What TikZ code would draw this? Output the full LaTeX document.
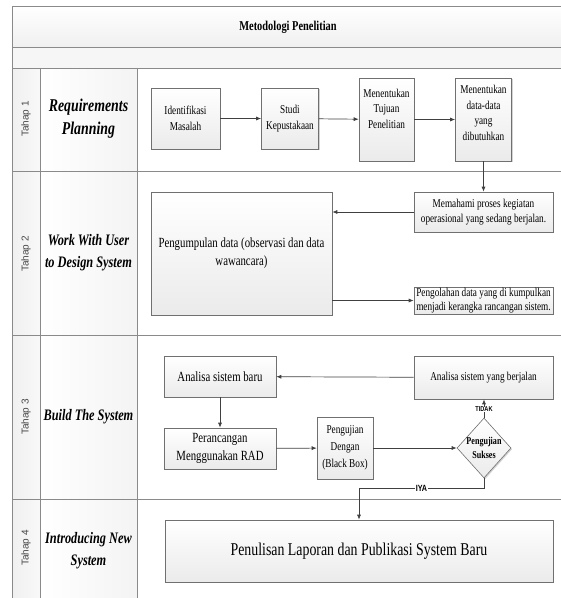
\documentclass[tikz,border=0pt]{standalone}
\usepackage{fontspec}
\setmainfont[FakeStretch=0.77]{Liberation Serif}
\setsansfont{Liberation Sans}
\newfontfamily\condsans[FakeStretch=0.8]{Liberation Sans}
\usetikzlibrary{shapes.geometric,shadows,arrows.meta}
\definecolor{framec}{HTML}{8A8A8A}
\definecolor{boxline}{HTML}{707070}
\definecolor{arrowc}{HTML}{404040}
\begin{document}
\begin{tikzpicture}[x=1pt,y=-1pt,
  frameline/.style={draw=framec,line width=1pt},
  box/.style={draw=boxline,line width=0.6pt,top color=white,bottom color=gray!16,
    align=center,inner sep=1pt,
    drop shadow={shadow xshift=1.2pt,shadow yshift=-1.2pt,opacity=0.35}},
  txt12/.style={font=\fontsize{12}{15.5}\selectfont},
  txt14/.style={font=\fontsize{14}{18}\selectfont},
  phase/.style={font=\bfseries\itshape\fontsize{16}{22}\selectfont,align=center},
  tahap/.style={font=\sffamily\fontsize{10}{12}\selectfont,text=gray!55!black,rotate=90},
  conn/.style={draw=arrowc,line width=0.7pt,-{Latex[length=5pt,width=4pt]}},
  dia/.style={diamond,draw=boxline,line width=0.6pt,top color=white,bottom color=gray!16,
    minimum width=54pt,minimum height=60pt,inner sep=0pt,
    drop shadow={shadow xshift=1.2pt,shadow yshift=-1.2pt,opacity=0.35}},
  tag/.style={font=\condsans\bfseries\fontsize{7}{8}\selectfont,fill=white,inner sep=0.5pt}
]
\useasboundingbox (0,0) rectangle (561,598);
% backgrounds
\fill[top color=white,bottom color=gray!12] (12,6) rectangle (561,47);
\fill[gray!7] (12,47) rectangle (561,68);
\fill[left color=gray!12,right color=gray!5] (12,68) rectangle (40,598);
\fill[left color=white,right color=gray!9] (40,68) rectangle (137,598);
% frame lines
\draw[frameline] (12,6) -- (561,6);
\draw[frameline] (12,47) -- (561,47);
\draw[frameline] (12,68) -- (561,68);
\draw[frameline] (12,171) -- (561,171);
\draw[frameline] (12,335) -- (561,335);
\draw[frameline] (12,499) -- (561,499);
\draw[frameline] (12,6) -- (12,598);
\draw[frameline] (40,68) -- (40,598);
\draw[frameline] (137,68) -- (137,598);
% title and lane labels
\node[font=\bfseries\fontsize{13.5}{15}\selectfont] (title) at (288,27) {Metodologi Penelitian};
\node[tahap] (t1) at (26,119) {Tahap 1};
\node[tahap] (t2) at (26,254) {Tahap 2};
\node[tahap] (t3) at (26,417) {Tahap 3};
\node[tahap] (t4) at (26,548) {Tahap 4};
\node[phase,font=\bfseries\itshape\fontsize{18}{23}\selectfont] (p1) at (88.5,119) {Requirements\\Planning};
\node[phase] (p2) at (88.5,253) {Work With User\\to Design System};
\node[phase] (p3) at (88.5,417) {Build The System};
\node[phase] (p4) at (88.5,551) {Introducing New\\System};
% Tahap 1
\node[box,txt12,minimum width=69pt,minimum height=61pt] (iden) at (185.5,118.5) {Identifikasi\\Masalah};
\node[box,txt12,minimum width=57pt,minimum height=61pt] (studi) at (290,118.5) {Studi\\Kepustakaan};
\node[box,txt12,minimum width=55pt,minimum height=83pt] (tujuan) at (386.5,119.5) {Menentukan\\Tujuan\\Penelitian\\[6pt]};
\node[box,txt12,minimum width=56pt,minimum height=83pt] (data) at (483.5,119.5) {Menentukan\\data-data\\yang\\dibutuhkan\\[-2pt]};
% Tahap 2
\node[box,txt14,minimum width=181pt,minimum height=123pt] (kumpul) at (241.5,253.5) {Pengumpulan data (observasi dan data\\wawancara)};
\node[box,txt12,minimum width=139pt,minimum height=40pt] (paham) at (483.5,212) {Memahami proses kegiatan\\operasional yang sedang berjalan.};
\node[box,font=\fontsize{12}{14}\selectfont,minimum width=139pt,minimum height=27pt] (olah) at (483.5,300.5) {Pengolahan data yang di kumpulkan\\menjadi kerangka rancangan sistem.};
% Tahap 3
\node[box,txt14,minimum width=112pt,minimum height=41pt] (baru) at (220,376.5) {Analisa sistem baru};
\node[box,txt12,minimum width=139pt,minimum height=43pt] (jalan) at (483.5,377.5) {Analisa sistem yang berjalan};
\node[box,txt14,minimum width=112pt,minimum height=41pt] (rad) at (220,448.5) {Perancangan\\Menggunakan RAD};
\node[box,font=\fontsize{12}{17}\selectfont,minimum width=56pt,minimum height=62pt] (bbox) at (345,448) {Pengujian\\Dengan\\(Black Box)};
\node[dia,label={[font=\bfseries\fontsize{10.5}{14}\selectfont,align=center]center:Pengujian\\Sukses}] (uji) at (484,448) {};
% Tahap 4
\node[box,font=\fontsize{18}{20}\selectfont,minimum width=388pt,minimum height=62pt] (tulis) at (359,551) {Penulisan Laporan dan Publikasi System Baru};
% connectors
\draw[conn] (iden) -- (studi);
\draw[conn] (studi) -- (tujuan);
\draw[conn] (tujuan) -- (data);
\draw[conn] (data) -- (paham);
\draw[conn] (paham.west) -- (paham.west -| kumpul.east);
\draw[conn] (kumpul.east |- olah.west) -- (olah.west);
\draw[conn] (jalan) -- (baru);
\draw[conn] (baru) -- (rad);
\draw[conn] (rad) -- (bbox);
\draw[conn] (bbox) -- (uji);
\draw[conn] (uji.north) -- node[tag,pos=0.45] {TIDAK} (uji.north |- jalan.south);
\coordinate (turn) at (484,488);
\draw[conn] (uji.south) -- (turn) -- node[tag,font=\condsans\bfseries\fontsize{9}{10}\selectfont,pos=0.5] {IYA} (turn -| tulis.north) -- (tulis.north);
\end{tikzpicture}
\end{document}
